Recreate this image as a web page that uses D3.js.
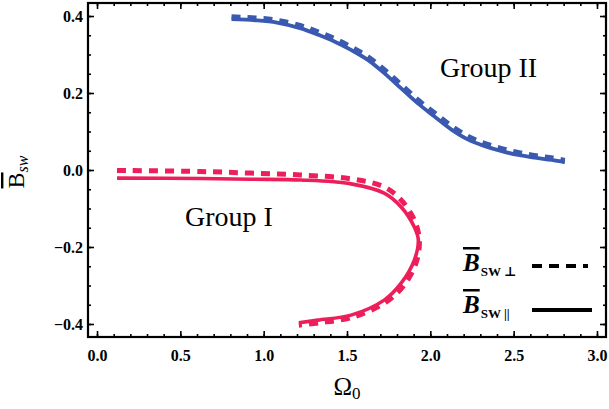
<!DOCTYPE html>
<html>
<head>
<meta charset="utf-8">
<script src="https://cdn.jsdelivr.net/npm/d3@7"></script>
<style>
  html, body { margin: 0; padding: 0; background: #fff; }
  svg { display: block; }
  text { font-family: "Liberation Serif", "DejaVu Serif", serif; }
</style>
</head>
<body>
<svg id="chart" width="609" height="409"></svg>
<script>
// Group II (blue): parallel (solid) and perpendicular (dashed) components
const group2ParX  = [0.807, 0.950, 1.080, 1.223, 1.323, 1.424, 1.524, 1.625, 1.725, 1.825, 1.925, 2.025, 2.127, 2.227, 2.327, 2.428, 2.528, 2.628, 2.729, 2.807];
const group2ParY  = [0.392, 0.389, 0.383, 0.368, 0.352, 0.334, 0.312, 0.286, 0.251, 0.212, 0.173, 0.139, 0.105, 0.079, 0.062, 0.049, 0.039, 0.032, 0.026, 0.020];
const group2PerpX = [0.807, 0.950, 1.080, 1.223, 1.325, 1.426, 1.528, 1.630, 1.731, 1.832, 1.932, 2.032, 2.134, 2.234, 2.334, 2.434, 2.534, 2.634, 2.734, 2.807];
const group2PerpY = [0.398, 0.395, 0.389, 0.375, 0.359, 0.341, 0.319, 0.293, 0.258, 0.219, 0.180, 0.146, 0.112, 0.086, 0.068, 0.055, 0.045, 0.037, 0.031, 0.025];

// Group I (red): loop turning back at Ω0 ≈ 1.93
const group1ParX  = [0.12, 0.62, 0.92, 1.223, 1.524, 1.723, 1.825, 1.904, 1.928, 1.904, 1.825, 1.723, 1.524, 1.325, 1.211];
const group1ParY  = [-0.021, -0.022, -0.024, -0.026, -0.036, -0.060, -0.096, -0.148, -0.182, -0.234, -0.294, -0.338, -0.377, -0.390, -0.397];
const group1PerpX = [0.12, 0.62, 0.92, 1.223, 1.524, 1.723, 1.825, 1.904, 1.934, 1.916, 1.843, 1.735, 1.536, 1.331, 1.211];
const group1PerpY = [-0.001, -0.004, -0.008, -0.013, -0.023, -0.044, -0.078, -0.130, -0.182, -0.239, -0.299, -0.343, -0.382, -0.397, -0.403];

const xTicks = [0.0, 0.5, 1.0, 1.5, 2.0, 2.5, 3.0];
const yTicks = [-0.4, -0.2, 0.0, 0.2, 0.4];
const groupLabels = ["Group I", "Group II"];

const svg = d3.select("#chart");
const mLeft = 88, mRight = 606, mTop = 3, mBottom = 337;

const x = d3.scaleLinear().domain([-0.0541, 3.0541]).range([mLeft, mRight]);
const y = d3.scaleLinear().domain([-0.4338, 0.4338]).range([mBottom, mTop]);

const blue = "#3a59b0";
const red = "#ec1f5b";

const line = d3.line().x(d => x(d[0])).y(d => y(d[1])).curve(d3.curveCatmullRom.alpha(0.5));
const zip = (a, b) => a.map((v, i) => [v, b[i]]);

const series = [
  { pts: zip(group1ParX, group1ParY),   color: red,  dash: null,  w: 3.6 },
  { pts: zip(group1PerpX, group1PerpY), color: red,  dash: "9,7", w: 5 },
  { pts: zip(group2ParX, group2ParY),   color: blue, dash: null,  w: 3.8 },
  { pts: zip(group2PerpX, group2PerpY), color: blue, dash: "9,7", w: 5 }
];

svg.append("g").selectAll("path").data(series).join("path")
  .attr("d", d => line(d.pts))
  .attr("fill", "none")
  .attr("stroke", d => d.color)
  .attr("stroke-width", d => d.w)
  .attr("stroke-dasharray", d => d.dash);

// Frame ticks: major and minor, pointing inward on all four sides
const xMinor = d3.range(0, 3.0001, 0.1);
const yMinor = d3.range(-0.4, 0.4001, 0.05);

function ticks(axisFn, scale, vals, size, pos, fmt) {
  const a = axisFn(scale).tickValues(vals).tickSizeInner(size).tickSizeOuter(0).tickPadding(6);
  a.tickFormat(fmt || (() => ""));
  const g = svg.append("g").attr("transform", pos).call(a);
  g.select(".domain").remove();
  g.selectAll(".tick line").attr("stroke", "#000").attr("stroke-width", 1.6);
  return g;
}
const f1 = d3.format(".1f");
const fmtY = d => f1(d).replace("-", "\u2212");

ticks(d3.axisBottom, x, xMinor, -3, `translate(0,${mBottom})`);
ticks(d3.axisTop, x, xMinor, -3, `translate(0,${mTop})`);
ticks(d3.axisLeft, y, yMinor, -3, `translate(${mLeft},0)`);
ticks(d3.axisRight, y, yMinor, -3, `translate(${mRight},0)`);

const gx = ticks(d3.axisBottom, x, xTicks, -6, `translate(0,${mBottom})`, f1);
ticks(d3.axisTop, x, xTicks, -6, `translate(0,${mTop})`);
const gy = ticks(d3.axisLeft, y, yTicks, -6, `translate(${mLeft},0)`, fmtY);
ticks(d3.axisRight, y, yTicks, -6, `translate(${mRight},0)`);

gx.selectAll("text").attr("font-family", "Liberation Serif, serif").attr("font-size", 16)
  .attr("font-weight", "bold").attr("fill", "#000").attr("y", 13);
gy.selectAll("text").attr("font-family", "Liberation Serif, serif").attr("font-size", 16)
  .attr("font-weight", "bold").attr("fill", "#000").attr("x", -5);

// Frame
svg.append("rect").attr("x", mLeft).attr("y", mTop).attr("width", mRight - mLeft).attr("height", mBottom - mTop)
  .attr("fill", "none").attr("stroke", "#000").attr("stroke-width", 2.2);

// Axis titles
const xl = svg.append("text").attr("x", (mLeft + mRight) / 2).attr("y", 395)
  .attr("text-anchor", "middle").attr("font-size", 25).attr("fill", "#000");
xl.append("tspan").text("\u03A9");
xl.append("tspan").attr("font-size", 17).attr("dy", 4).text("0");

const yl = svg.append("text").attr("transform", `translate(24,172) rotate(-90)`)
  .attr("text-anchor", "middle").attr("font-size", 24).attr("fill", "#000");
yl.append("tspan").style("text-decoration", "overline").text("B");
yl.append("tspan").attr("font-size", 16).attr("font-style", "italic").attr("dy", 4).text("sw");

// Group labels
svg.append("text").attr("x", 185).attr("y", 226).attr("font-size", 28).attr("fill", "#000").text(groupLabels[0]);
svg.append("text").attr("x", 440).attr("y", 77).attr("font-size", 28).attr("fill", "#000").text(groupLabels[1]);

// Legend
const legend = [
  { sym: "\u22A5", dash: "10,7", y: 266, ty: 271 },
  { sym: "||", dash: null, y: 310, ty: 313 }
];
legend.forEach(d => {
  const t = svg.append("text").attr("x", 463).attr("y", d.ty).attr("fill", "#000").attr("font-weight", "bold");
  t.append("tspan").attr("font-size", 25).attr("font-style", "italic").style("text-decoration", "overline").text("B");
  t.append("tspan").attr("font-size", 13).attr("dy", 5).attr("dx", 1).text("SW " + d.sym);
  svg.append("line").attr("x1", 532).attr("x2", d.dash ? 588 : 592).attr("y1", d.y).attr("y2", d.y)
    .attr("stroke", "#000").attr("stroke-width", 4).attr("stroke-dasharray", d.dash);
});
</script>
</body>
</html>
